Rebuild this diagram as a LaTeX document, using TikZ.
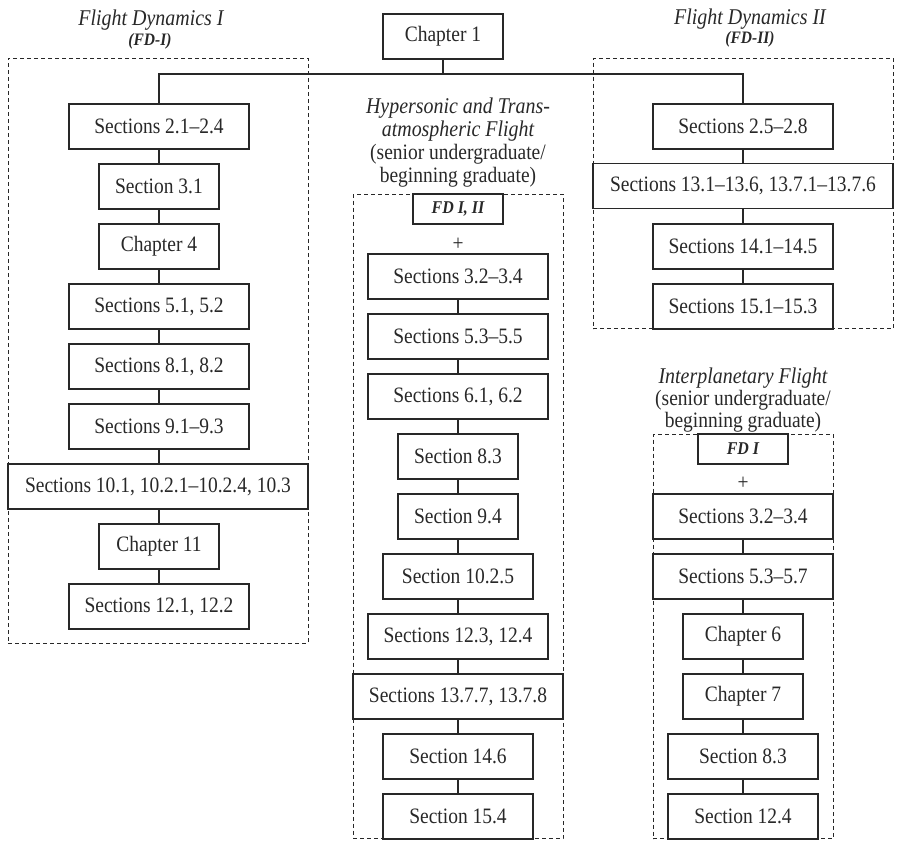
\documentclass[tikz,border=0pt]{standalone}
\usepackage{fontspec}
\setmainfont{Liberation Serif}[FakeStretch=0.886]
\definecolor{ink}{RGB}{40,40,40}
\begin{document}
\begin{tikzpicture}[x=1pt,y=-1pt,
  box/.style={draw=ink, line width=1.3pt, fill=white, inner sep=0pt, outer sep=0pt,
    minimum height=45pt, text=ink, font=\fontsize{22}{25}\selectfont},
  fdbox/.style={draw=ink, line width=1.3pt, fill=white, inner sep=0pt, outer sep=0pt,
    minimum width=90pt, minimum height=30pt, text=ink, font=\fontsize{18}{21}\selectfont\bfseries\itshape},
  group/.style={draw=ink, line width=1pt, dash pattern=on 4pt off 3pt, inner sep=0pt, outer sep=0pt},
  link/.style={draw=ink, line width=1.3pt},
  ttl/.style={text=ink, anchor=base, inner sep=0pt, font=\fontsize{22.5}{25}\selectfont\itshape},
  sub/.style={text=ink, anchor=base, inner sep=0pt, font=\fontsize{22}{25}\selectfont},
  abbr/.style={text=ink, anchor=base, inner sep=0pt, font=\fontsize{17.5}{20}\selectfont\bfseries\itshape},
  plus/.style={text=ink, inner sep=0pt, font=\fontsize{22}{25}\selectfont}
]
\useasboundingbox (0,0) rectangle (899,841);

% dashed groups
\node[group, minimum width=300pt, minimum height=585pt] (g1) at (158,350.5) {};
\node[group, minimum width=300pt, minimum height=270.5pt] (g2) at (743,193.25) {};
\node[group, minimum width=210pt, minimum height=644.5pt] (g3) at (458,516.25) {};
\node[group, minimum width=180pt, minimum height=404.5pt] (g4) at (743,636.25) {};

% titles
\node[ttl] (t1) at (151,25) {Flight Dynamics I};
\node[abbr] (t1b) at (150,45) {(FD-I)};
\node[ttl] (t2) at (750,24) {Flight Dynamics II};
\node[abbr] (t2b) at (750,43) {(FD-II)};
\node[ttl] (t3a) at (458,113) {Hypersonic and Trans-};
\node[ttl] (t3b) at (458,136) {atmospheric Flight};
\node[sub] (t3c) at (458,159) {(senior undergraduate/};
\node[sub] (t3d) at (458,182) {beginning graduate)};
\node[ttl] (t4a) at (743,383) {Interplanetary Flight};
\node[sub] (t4b) at (743,405) {(senior undergraduate/};
\node[sub] (t4c) at (743,427) {beginning graduate)};

% Chapter 1
\node[box, minimum width=120pt] (ch1) at (443,36.5) {Chapter 1};

% FD-I
\node[box, minimum width=180pt] (a1) at (159,126.5) {Sections 2.1–2.4};
\node[box, minimum width=120pt] (a2) at (159,186.5) {Section 3.1};
\node[box, minimum width=120pt] (a3) at (159,246.5) {Chapter 4};
\node[box, minimum width=180pt] (a4) at (159,306.5) {Sections 5.1, 5.2};
\node[box, minimum width=180pt] (a5) at (159,366.5) {Sections 8.1, 8.2};
\node[box, minimum width=180pt] (a6) at (159,426.5) {Sections 9.1–9.3};
\node[box, minimum width=300pt] (a7) at (158,486.5) {Sections 10.1, 10.2.1–10.2.4, 10.3};
\node[box, minimum width=120pt] (a8) at (159,546.5) {Chapter 11};
\node[box, minimum width=180pt] (a9) at (159,606.5) {Sections 12.1, 12.2};

% FD-II
\node[box, minimum width=180pt] (b1) at (743,126.5) {Sections 2.5–2.8};
\node[box, minimum width=300pt] (b2) at (743,186) {Sections 13.1–13.6, 13.7.1–13.7.6};
\node[box, minimum width=180pt] (b3) at (743,246.5) {Sections 14.1–14.5};
\node[box, minimum width=180pt] (b4) at (743,306.5) {Sections 15.1–15.3};

% Hypersonic
\node[fdbox] (h0) at (458,209) {FD I, II};
\node[plus] (hp) at (458,244) {+};
\node[box, minimum width=180pt] (c1) at (458,276.5) {Sections 3.2–3.4};
\node[box, minimum width=180pt] (c2) at (458,336.5) {Sections 5.3–5.5};
\node[box, minimum width=180pt] (c3) at (458,396.5) {Sections 6.1, 6.2};
\node[box, minimum width=120pt] (c4) at (458,456.5) {Section 8.3};
\node[box, minimum width=120pt] (c5) at (458,516.5) {Section 9.4};
\node[box, minimum width=150pt] (c6) at (458,576.5) {Section 10.2.5};
\node[box, minimum width=180pt] (c7) at (458,636.5) {Sections 12.3, 12.4};
\node[box, minimum width=210pt] (c8) at (458,696.5) {Sections 13.7.7, 13.7.8};
\node[box, minimum width=150pt] (c9) at (458,756.5) {Section 14.6};
\node[box, minimum width=150pt] (c10) at (458,816.5) {Section 15.4};

% Interplanetary
\node[fdbox] (i0) at (743,449) {FD I};
\node[plus] (ip) at (743,483.5) {+};
\node[box, minimum width=180pt] (d1) at (743,516.5) {Sections 3.2–3.4};
\node[box, minimum width=180pt] (d2) at (743,576.5) {Sections 5.3–5.7};
\node[box, minimum width=120pt] (d3) at (743,636.5) {Chapter 6};
\node[box, minimum width=120pt] (d4) at (743,696.5) {Chapter 7};
\node[box, minimum width=150pt] (d5) at (743,756.5) {Section 8.3};
\node[box, minimum width=150pt] (d6) at (743,816.5) {Section 12.4};

% bus from Chapter 1
\coordinate (bus) at (443,74);
\coordinate (busL) at (159,74);
\coordinate (busR) at (743,74);
\draw[link] (ch1) -- (bus);
\draw[link] (a1.north) -- (busL) -- (busR) -- (b1.north);

% chains
\draw[link] (a1) -- (a2);
\draw[link] (a2) -- (a3);
\draw[link] (a3) -- (a4);
\draw[link] (a4) -- (a5);
\draw[link] (a5) -- (a6);
\draw[link] (a6.south) -- (a6.south |- a7.north);
\draw[link] (a8.north |- a7.south) -- (a8.north);
\draw[link] (a8) -- (a9);

\draw[link] (b1) -- (b2);
\draw[link] (b2) -- (b3);
\draw[link] (b3) -- (b4);

\draw[link] (c1) -- (c2);
\draw[link] (c2) -- (c3);
\draw[link] (c3) -- (c4);
\draw[link] (c4) -- (c5);
\draw[link] (c5) -- (c6);
\draw[link] (c6) -- (c7);
\draw[link] (c7) -- (c8);
\draw[link] (c8) -- (c9);
\draw[link] (c9) -- (c10);

\draw[link] (d1) -- (d2);
\draw[link] (d2) -- (d3);
\draw[link] (d3) -- (d4);
\draw[link] (d4) -- (d5);
\draw[link] (d5) -- (d6);
\end{tikzpicture}
\end{document}
